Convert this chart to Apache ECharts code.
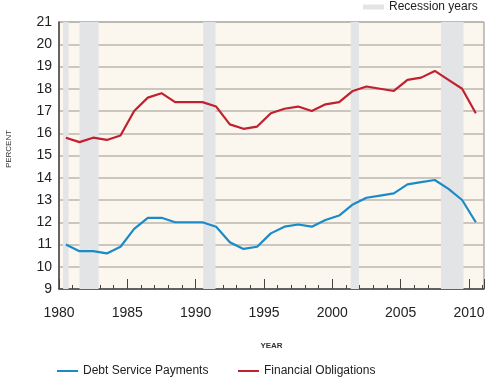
<!DOCTYPE html>
<html><head><meta charset="utf-8">
<script src="https://cdn.jsdelivr.net/npm/echarts@6/dist/echarts.min.js"></script>
<style>html,body{margin:0;padding:0;background:#fff}#c{width:502px;height:384px}</style>
</head><body><div id="c"></div>
<script>
var years = [1980,1981,1982,1983,1984,1985,1986,1987,1988,1989,1990,1991,1992,1993,1994,1995,1996,1997,1998,1999,2000,2001,2002,2003,2004,2005,2006,2007,2008,2009,2010];
var debtService = [11.0,10.7,10.7,10.6,10.9,11.7,12.2,12.2,12.0,12.0,12.0,11.8,11.1,10.8,10.9,11.5,11.8,11.9,11.8,12.1,12.3,12.8,13.1,13.2,13.3,13.7,13.8,13.9,13.5,13.0,12.0];
var financialObligations = [15.8,15.6,15.8,15.7,15.9,17.0,17.6,17.8,17.4,17.4,17.4,17.2,16.4,16.2,16.3,16.9,17.1,17.2,17.0,17.3,17.4,17.9,18.1,18.0,17.9,18.4,18.5,18.8,18.4,18.0,16.9];
var recessions = [[1980.3,1980.7],[1981.5,1982.9],[1990.55,1991.45],[2001.35,2001.95],[2007.95,2009.6]];
var xTicks = [1980,1985,1990,1995,2000,2005,2010];

function pts(vals){ return years.map(function(y,i){ return [y+0.5, vals[i]]; }); }

var chart = echarts.init(document.getElementById('c'));
chart.setOption({
  animation:false,
  textStyle:{fontFamily:'Liberation Sans, Arial, sans-serif'},
  grid:{left:59,right:18,top:22,bottom:95,show:true,backgroundColor:'#fbf6ee',borderColor:'#8a8a8a',borderWidth:1},
  graphic:[{type:'text',x:9,y:149,rotation:Math.PI/2,
    style:{text:'PERCENT',fontSize:8,fill:'#333',align:'center',verticalAlign:'middle',
      fontFamily:'Liberation Sans, Arial, sans-serif'}}],
  legend:[
    {data:['Recession years'],top:1,left:363,padding:0,icon:'rect',itemWidth:21,itemHeight:5,
     textStyle:{fontSize:12,color:'#222'}},
    {data:['Debt Service Payments'],top:360,left:52,icon:'rect',itemWidth:21,itemHeight:2,
     textStyle:{fontSize:12,color:'#222'}},
    {data:['Financial Obligations'],top:360,left:233,icon:'rect',itemWidth:21,itemHeight:2,
     textStyle:{fontSize:12,color:'#222'}}
  ],
  xAxis:{type:'value',min:1980,max:2011.1,interval:5,
    name:'YEAR',nameLocation:'middle',nameGap:53,
    nameTextStyle:{fontSize:8,color:'#333',fontWeight:'bold'},
    axisLine:{lineStyle:{color:'#444',width:1.5}},
    axisTick:{inside:true,length:10,lineStyle:{color:'#444'}},
    minorTick:{show:true,splitNumber:5,length:4,lineStyle:{color:'#444'}},
    axisLabel:{fontSize:14,color:'#222',margin:17,showMaxLabel:false,
      formatter:function(v){return xTicks.indexOf(v)>=0?String(v):'';}},
    splitLine:{show:false}},
  yAxis:{type:'value',min:9,max:21,interval:1,
    axisLine:{show:true,lineStyle:{color:'#444',width:1.5}},
    axisTick:{show:false},
    axisLabel:{fontSize:14,color:'#222',margin:7},
    splitLine:{lineStyle:{color:'#bbb6ae',width:1.5}}},
  series:[
    {name:'Recession years',type:'line',data:[],color:'#e3e4e6',z:1,
     markArea:{silent:true,itemStyle:{color:'#e3e4e6'},
       data:recessions.map(function(r){return [{xAxis:r[0]},{xAxis:r[1]}];})}},
    {name:'Debt Service Payments',type:'line',data:pts(debtService),color:'#1b8bc8',
     symbol:'none',lineStyle:{width:2.2,color:'#1b8bc8'},z:3},
    {name:'Financial Obligations',type:'line',data:pts(financialObligations),color:'#c0202f',
     symbol:'none',lineStyle:{width:2.2,color:'#c0202f'},z:3}
  ]
});
</script></body></html>
